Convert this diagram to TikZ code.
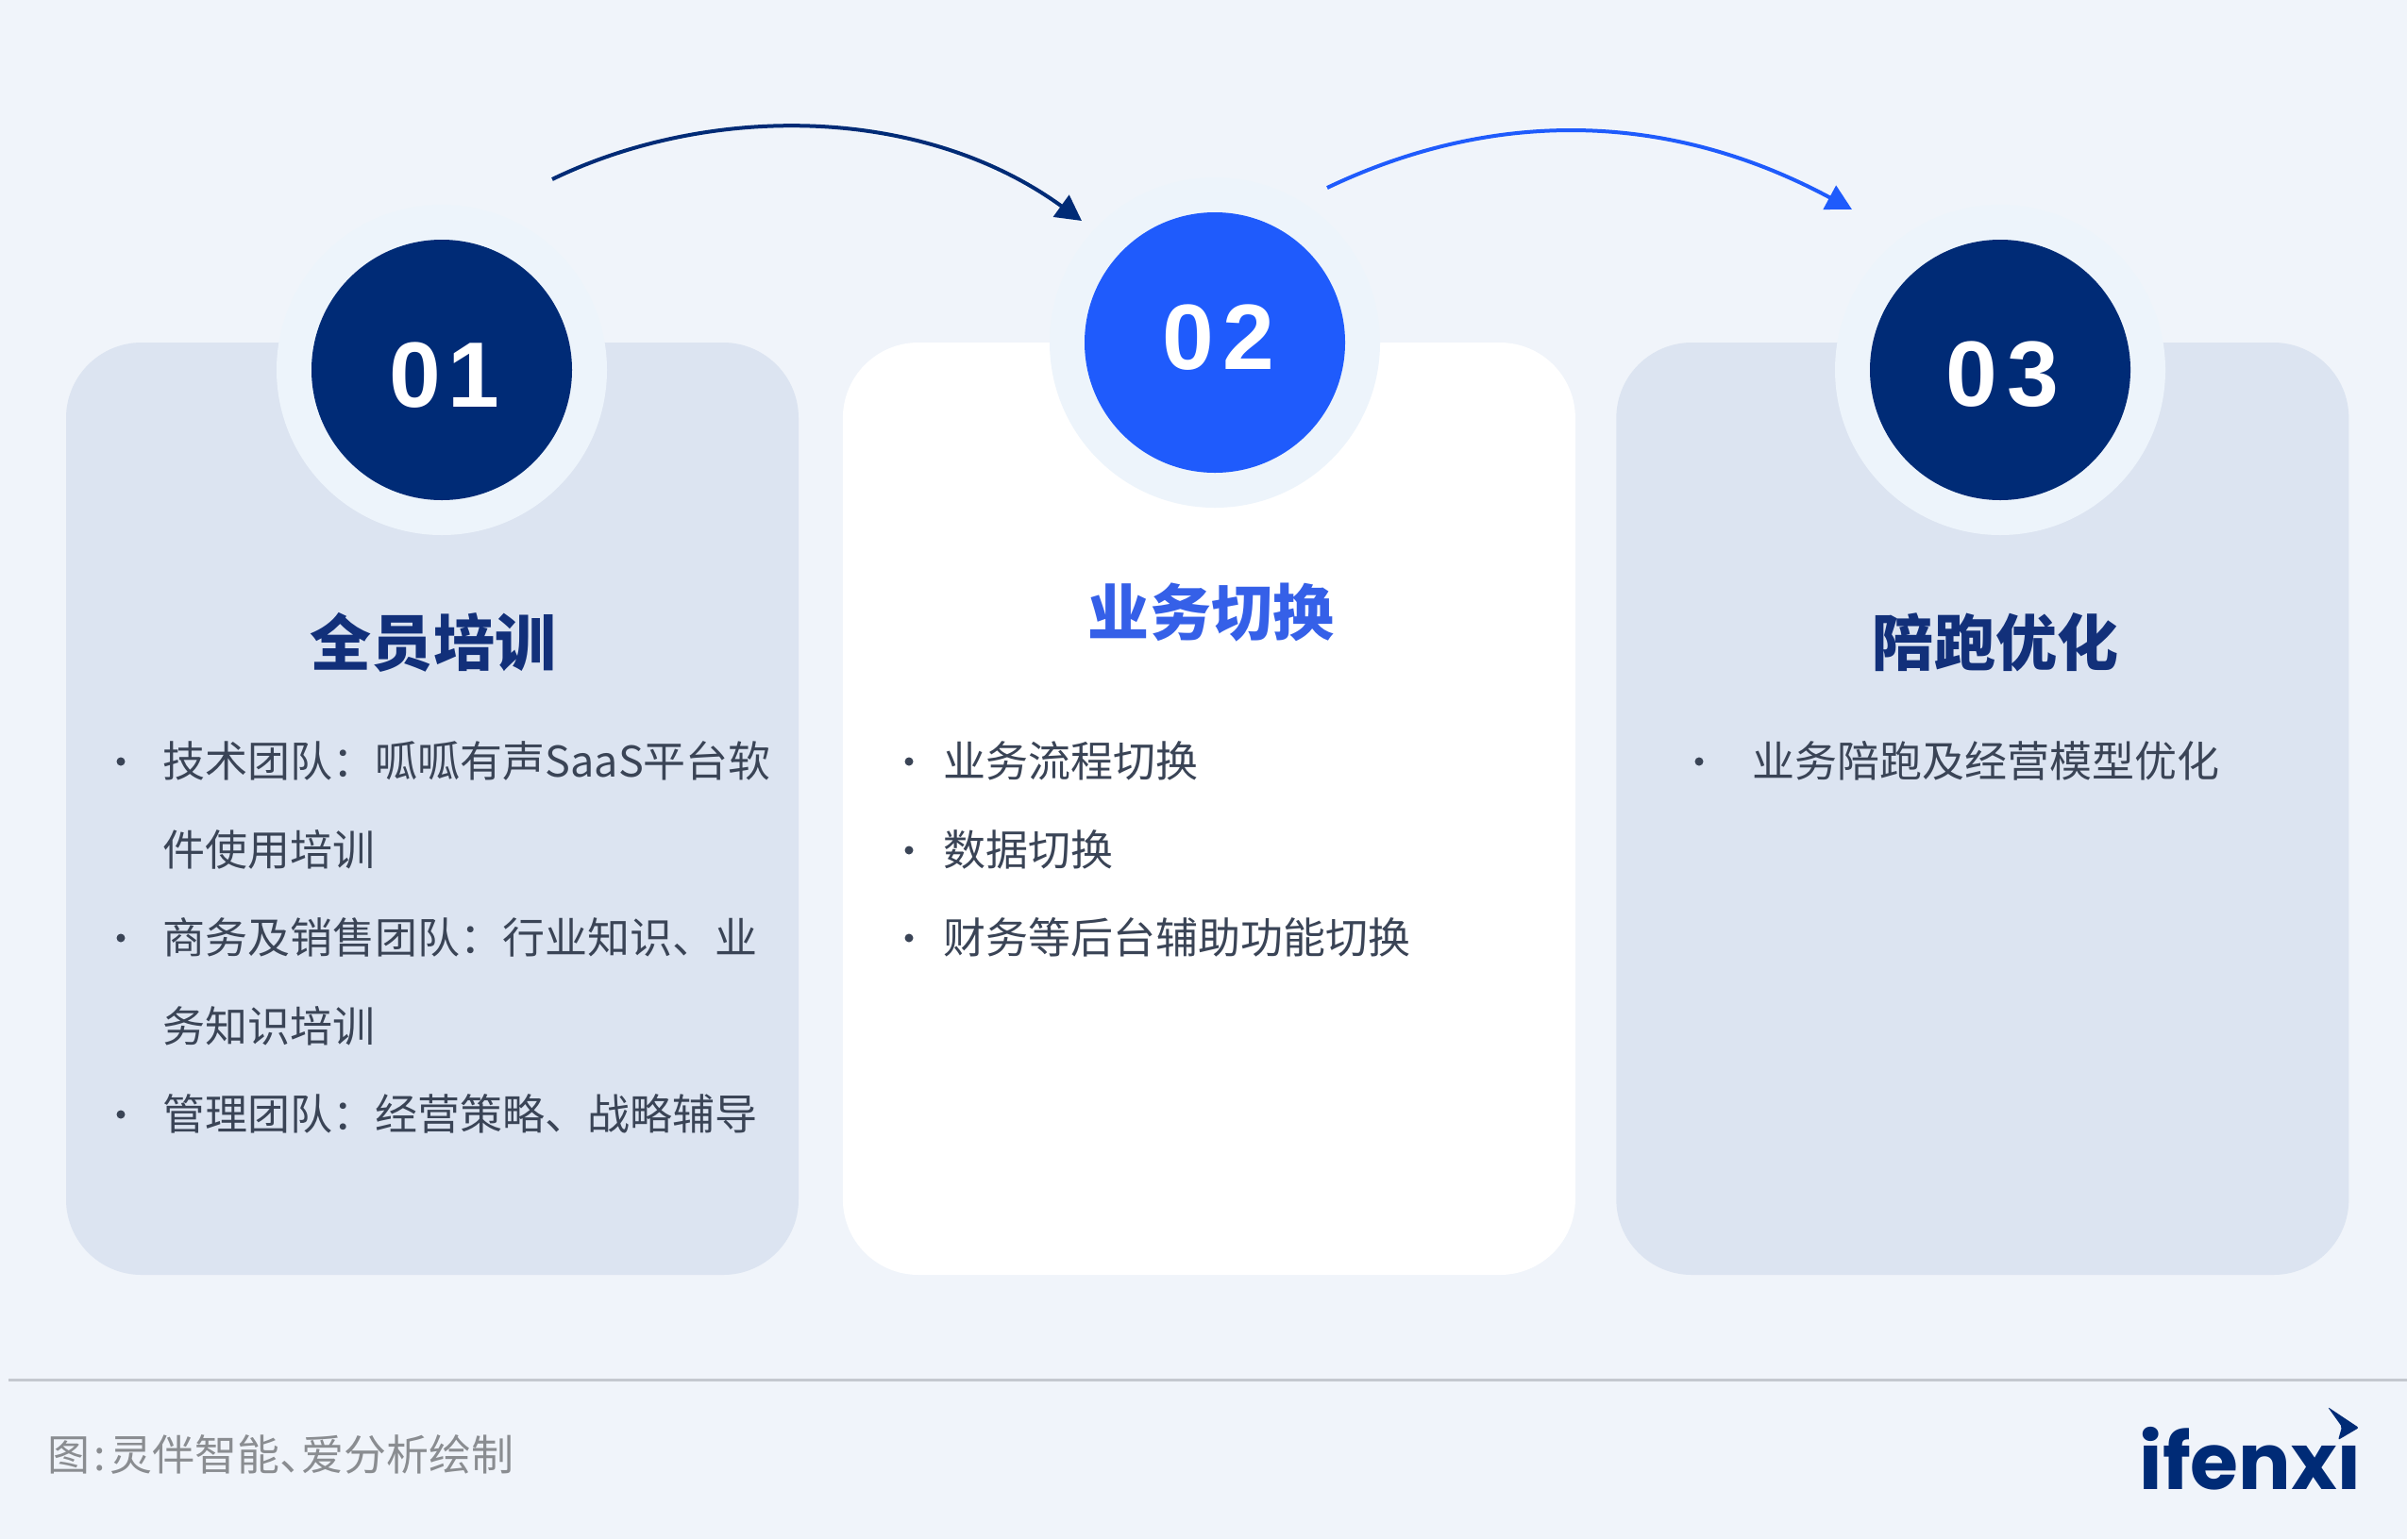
\documentclass[tikz,border=0pt]{standalone}
\usepackage{fontspec}
\setmainfont{Noto Sans CJK SC}
\newfontfamily\logofont{Poppins}
\newfontfamily\numfont{Liberation Sans}
\usepackage{tikz}
\usetikzlibrary{arrows.meta, positioning}
\definecolor{bgcol}{HTML}{F0F4FA}
\definecolor{cardcol}{HTML}{DCE4F1}
\definecolor{halocol}{HTML}{EDF4FB}
\definecolor{navycol}{HTML}{002B76}
\definecolor{bluecol}{HTML}{1F5BFC}
\definecolor{titlecol}{HTML}{12307A}
\definecolor{titlebluecol}{HTML}{3560E8}
\definecolor{bodycol}{HTML}{3A4456}
\definecolor{footcol}{HTML}{8A8D91}
\definecolor{rulecol}{HTML}{C4C8CF}
\tikzstyle{card}=[fill=cardcol, rounded corners=.8cm, minimum width=7.76cm, minimum height=9.88cm, inner sep=0]
\tikzstyle{halo}=[circle, fill=halocol, minimum size=3.5cm, inner sep=0]
\tikzstyle{num}=[circle, minimum size=2.76cm, inner sep=0]
\tikzstyle{digits}=[inner sep=0, text=white, font=\fontsize{28}{29}\numfont\bfseries]
\tikzstyle{title}=[text=titlecol, inner sep=0, font=\fontsize{18.5}{20}\selectfont\bfseries]
\tikzstyle{item}=[text=bodycol, anchor=west, inner sep=0, font=\fontsize{12.8}{15}\selectfont]
\tikzstyle{dot}=[circle, fill=bodycol, minimum size=.09cm, inner sep=0]
\tikzstyle{arr}=[line width=.04cm, -{Triangle[length=.27cm,width=.28cm]}]
\begin{document}
\begin{tikzpicture}
    \useasboundingbox (0,0) rectangle (25.5,-16.31);
    \fill[bgcol] (0,0) rectangle (25.5,-16.31);

    % cards
    \node [card](A) at (4.58,-8.57) {};
    \node [card, fill=white, right=.455cm of A](B) {};
    \node [card, right=.42cm of B](C) {};

    % numbers
    \node [halo](HA) at (4.68,-3.92) {};
    \node [halo](HB) at (12.87,-3.63) {};
    \node [halo](HC) at (21.19,-3.92) {};
    \node [num, fill=navycol](NA) at (HA) {};
    \node [num, fill=bluecol](NB) at (HB) {};
    \node [num, fill=navycol](NC) at (HC) {};
    \node [digits](LA) at (4.71,-3.975) {0\kern.08em 1};
    \node [digits](LB) at (12.91,-3.575) {0\kern.1em 2};
    \node [digits](LC) at (21.215,-3.97) {0\kern.1em 3};

    % arrows
    \coordinate (SA) at (5.85,-1.90);
    \coordinate (EA) at (11.46,-2.34);
    \coordinate (SB) at (14.06,-1.99);
    \coordinate (EB) at (19.62,-2.22);
    \draw[arr, navycol] (SA) .. controls (7.5,-1.1) and (9.75,-1.1) .. (EA);
    \draw[arr, bluecol] (SB) .. controls (15.8,-1.16) and (17.65,-1.16) .. (EB);

    % titles
    \node [title](TA) at (4.59,-6.81) {全员培训};
    \node [title, text=titlebluecol](TB) at (12.83,-6.49) {业务切换};
    \node [title](TC) at (21.14,-6.81) {陪跑优化};

    % first card
    \node [dot](DA) at (1.28,-8.07) {};
    \node [item](IA) at (1.72,-8.065) {技术团队：呱呱有声SaaS平台软};
    \node [item](IB) at (1.72,-9.0) {件使用培训};
    \node [dot](DB) at (1.28,-9.94) {};
    \node [item](IC) at (1.72,-9.935) {商务及销售团队：行业知识、业};
    \node [item](ID) at (1.72,-10.87) {务知识培训};
    \node [dot](DC) at (1.28,-11.81) {};
    \node [item](IE) at (1.72,-11.805) {管理团队：经营策略、战略辅导};

    % second card
    \node [dot](DD) at (9.63,-8.07) {};
    \node [item](IF) at (9.985,-8.065) {业务流程切换};
    \node [dot](DE) at (9.63,-9.01) {};
    \node [item](IG) at (9.985,-9.0) {数据切换};
    \node [dot](DF) at (9.63,-9.94) {};
    \node [item](IH) at (9.985,-9.935) {财务等后台辅助功能切换};

    % third card
    \node [dot](DG) at (18.00,-8.07) {};
    \node [item](II) at (18.555,-8.065) {业务陪跑及经营模型优化};

    % footer
    \coordinate (RA) at (.09,-14.62);
    \coordinate (RB) at (25.5,-14.62);
    \draw[rulecol, line width=.03cm] (RA) -- (RB);
    \node [item, text=footcol](FT) at (.495,-15.41) {图\kern.1em:\kern.09em 灵伴智能、\kern-.49em 爱分析绘制};

    % logo
    \node [anchor=base west, inner sep=0, text=navycol, font=\fontsize{23.5}{26}\logofont\bfseries](LG) at (22.66,-15.78) {ifenx\i};
    \fill[navycol, rounded corners=.02cm] (24.66,-14.91) -- (24.99,-15.13) -- (24.77,-15.26) -- (24.81,-15.12) -- cycle;
\end{tikzpicture}
\end{document}
